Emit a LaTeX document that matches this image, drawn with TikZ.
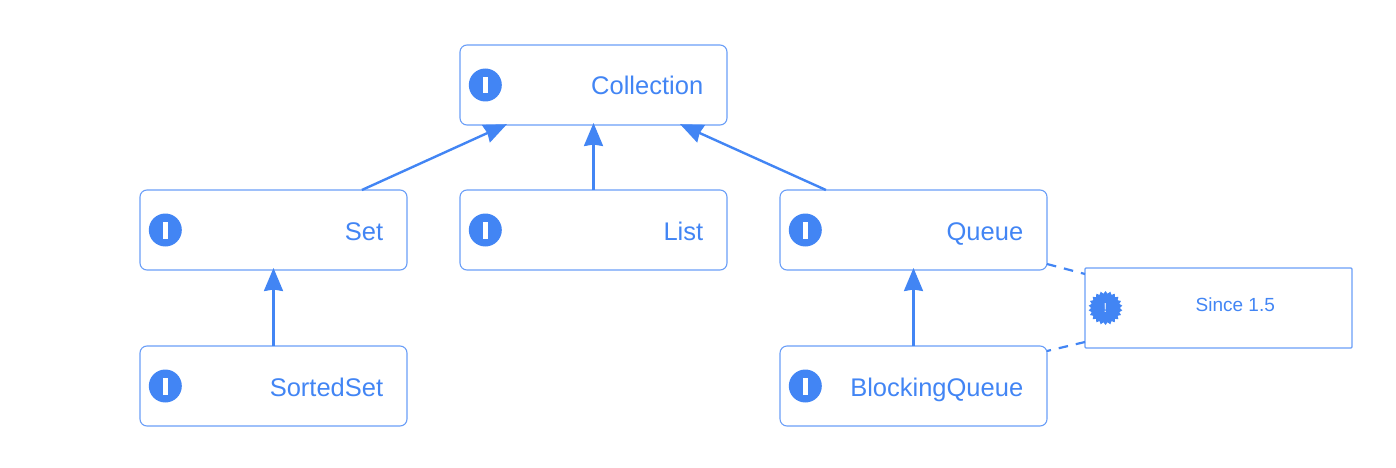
\documentclass[tikz,border=0pt]{standalone}
\usepackage{fontspec}
\setmainfont{Liberation Sans}
\usetikzlibrary{arrows.meta,calc,shapes.geometric}
\definecolor{uml}{HTML}{4285F4}
\definecolor{umledge}{HTML}{6A9EF7}
\tikzset{
  x=1pt,y=-1pt,
  classbox/.style={draw=umledge,line width=1.1pt,rounded corners=7pt,minimum width=267pt,minimum height=80pt,inner sep=0pt,outer sep=0pt},
  notebox/.style={draw=umledge,line width=1.2pt,rounded corners=1pt,minimum width=267pt,minimum height=80pt,inner sep=0pt,outer sep=0pt},
  classlabel/.style={anchor=base east,text=uml,font=\fontsize{25.5}{28}\selectfont,inner sep=0pt},
  notelabel/.style={text=uml,font=\fontsize{19}{22}\selectfont,inner sep=0pt},
  iconmark/.style={circle,fill=uml,minimum size=33pt,inner sep=0pt},
  sealmark/.style={star,star points=22,star point ratio=1.18,fill=uml,minimum size=34pt,inner sep=0pt,text=white!85!uml,font=\fontsize{13}{13}\selectfont},
  inherit/.style={draw=uml,line width=2.4pt,shorten >=-2pt,-{Stealth[length=23pt,width=19pt,inset=1.5pt]}},
  notelink/.style={draw=uml,line width=2.2pt,dash pattern=on 9.5pt off 8pt},
}
\newcommand{\classnode}[4]{%
  \node[classbox] (#1) at (#2,#3) {};
  \node[iconmark] (#1icon) at ($(#1.west)+(25.3,0)$) {};
  \fill[white] ($(#1icon.center)+(-2.2,-8)$) rectangle ($(#1icon.center)+(2.2,8.5)$);
  \node[classlabel] (#1label) at ($(#1.east)+(-23.6,10)$) {#4};
}
\begin{document}
\begin{tikzpicture}
\useasboundingbox (0,0) rectangle (1396,468);
\classnode{collection}{593.5}{85}{Collection}
\classnode{set}{273.5}{230}{Set}
\classnode{list}{593.5}{230}{List}
\classnode{queue}{913.5}{230}{Queue}
\classnode{sortedset}{273.5}{386}{SortedSet}
\classnode{blockingqueue}{913.5}{386}{BlockingQueue}
\node[notebox] (note) at (1218.5,308) {};
\node[sealmark] (seal) at (1105.5,308) {!};
\node[notelabel] (notetext) at (1235.3,305) {Since 1.5};
\draw[inherit] ($(set.north west)!0.831!(set.north east)$) -- ($(collection.south west)!0.169!(collection.south east)$);
\draw[inherit] (list.north) -- (collection.south);
\draw[inherit] ($(queue.north west)!0.172!(queue.north east)$) -- ($(collection.south west)!0.831!(collection.south east)$);
\draw[inherit] (sortedset.north) -- (set.south);
\draw[inherit] (blockingqueue.north) -- (queue.south);
\draw[notelink] ($(queue.north east)!0.925!(queue.south east)$) -- ($(note.north west)!0.075!(note.south west)$);
\draw[notelink] ($(note.north west)!0.925!(note.south west)$) -- ($(blockingqueue.north east)!0.0625!(blockingqueue.south east)$);
\end{tikzpicture}
\end{document}
